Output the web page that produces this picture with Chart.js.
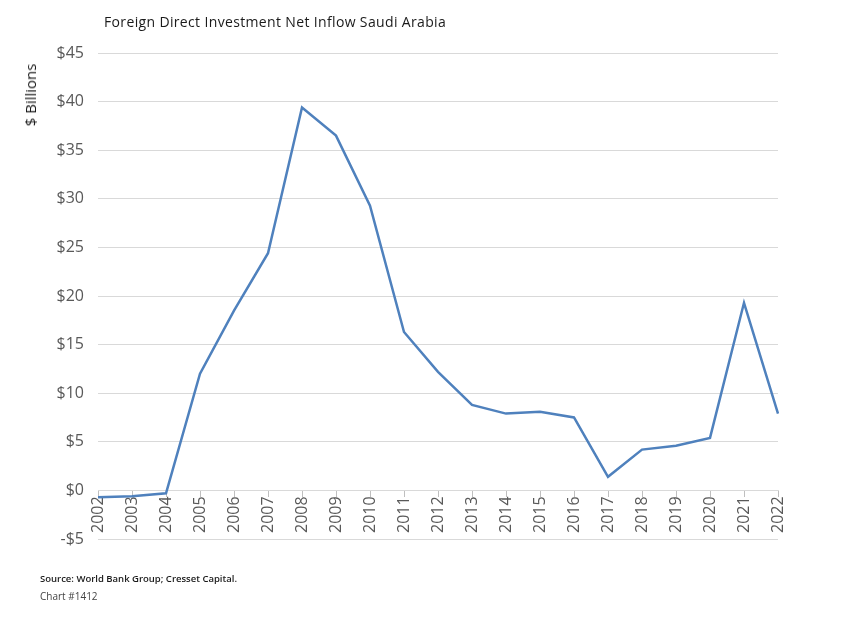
<!DOCTYPE html>
<html>
<head>
<meta charset="utf-8">
<script src="https://cdn.jsdelivr.net/npm/chart.js@4"></script>
<style>
    body { margin: 0; background: #fff; }
    #wrap { position: relative; width: 866px; height: 628px; }
    #title { position: absolute; left: 104px; top: 12px; font: 14px "Open Sans", sans-serif; letter-spacing: 0.35px; color: #1a1a1a; }
    #ytitle { position: absolute; left: 30px; top: 95px; transform: translate(-50%, -50%) rotate(-90deg); white-space: nowrap; font: 15px "Open Sans", sans-serif; color: #1a1a1a; }
    #source { position: absolute; left: 40px; top: 572px; font: 600 9.5px "Open Sans", sans-serif; color: #1a1a1a; }
    #chartno { position: absolute; left: 40px; top: 589px; font: 10px "Open Sans", sans-serif; color: #444; }
</style>
</head>
<body>
<div id="wrap">
    <canvas id="chart" width="866" height="628"></canvas>
    <div id="title">Foreign Direct Investment Net Inflow Saudi Arabia</div>
    <div id="ytitle">$ Billions</div>
    <div id="source">Source: World Bank Group; Cresset Capital.</div>
    <div id="chartno">Chart #1412</div>
</div>
<script>
const years = ['2002', '2003', '2004', '2005', '2006', '2007', '2008', '2009', '2010', '2011', '2012',
    '2013', '2014', '2015', '2016', '2017', '2018', '2019', '2020', '2021', '2022'];
const fdiInflow = [-0.7, -0.6, -0.3, 12.0, 18.5, 24.4, 39.4, 36.5, 29.3, 16.3, 12.2,
    8.8, 7.9, 8.1, 7.5, 1.4, 4.2, 4.6, 5.4, 19.3, 7.9];
const yMin = -5;
const yMax = 45;
const yStep = 5;

new Chart(document.getElementById('chart'), {
    type: 'line',
    data: {
        labels: years,
        datasets: [{
            data: fdiInflow,
            borderColor: '#4f81bd',
            borderWidth: 2.5,
            pointRadius: 0,
            tension: 0,
            fill: false
        }]
    },
    options: {
        responsive: false,
        animation: false,
        layout: { padding: { top: 53, right: 88, bottom: 89, left: 0 } },
        plugins: {
            legend: { display: false },
            tooltip: { enabled: false }
        },
        scales: {
            x: {
                position: { y: 0 },
                offset: false,
                grid: { display: true, drawOnChartArea: false, tickLength: 6, color: '#bfbfbf' },
                border: { color: '#d9d9d9' },
                ticks: {
                    minRotation: 90,
                    maxRotation: 90,
                    padding: 0,
                    autoSkip: false,
                    color: '#595959',
                    font: { family: '"Open Sans", sans-serif', size: 16 }
                }
            },
            y: {
                min: yMin,
                max: yMax,
                afterFit: scale => { scale.width = 98; },
                grid: { color: '#d9d9d9', drawTicks: false },
                border: { display: false },
                ticks: {
                    stepSize: yStep,
                    padding: 14,
                    color: '#595959',
                    font: { family: '"Open Sans", sans-serif', size: 16 },
                    callback: v => (v < 0 ? '-$' + Math.abs(v) : '$' + v)
                }
            }
        }
    }
});
</script>
</body>
</html>
